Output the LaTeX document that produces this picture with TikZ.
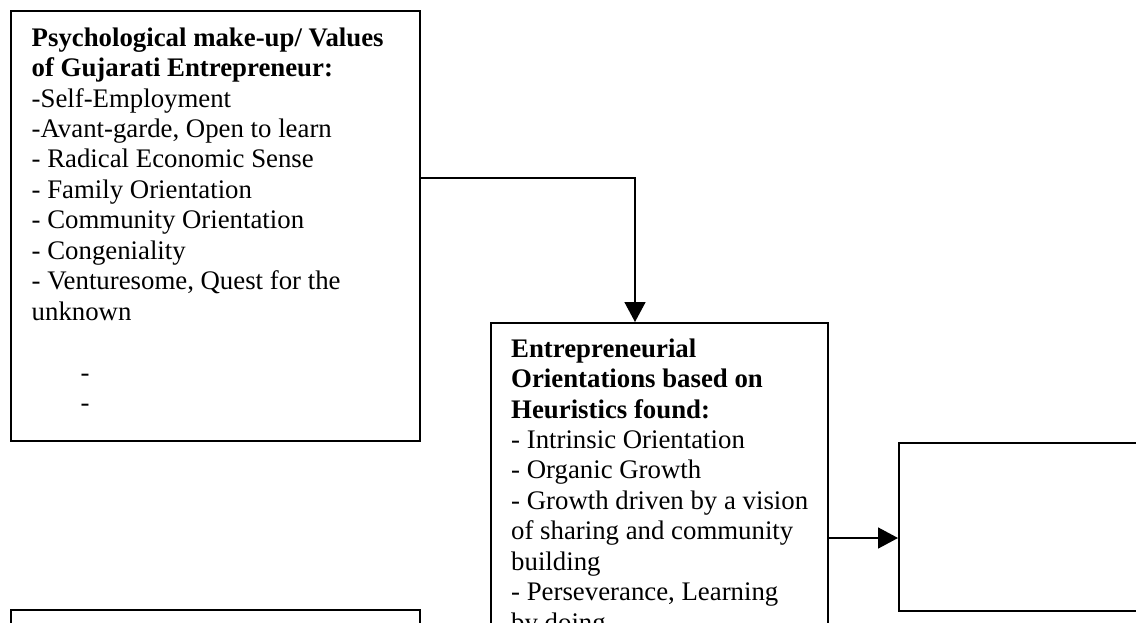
\documentclass[tikz,border=0pt]{standalone}
\usepackage{fontspec}
\setmainfont{Liberation Serif}
\usetikzlibrary{arrows.meta}
\tikzset{
  box/.style={draw=black, line width=1.6pt, fill=white, rectangle, anchor=north west, inner sep=0pt},
  txt/.style={anchor=north west, inner sep=0pt, align=left, font={\fontsize{26.8}{30.44}\selectfont}},
  conn/.style={draw=black, line width=1.6pt, -{Triangle[length=20pt,width=21pt]}}
}
\begin{document}
\begin{tikzpicture}[x=1pt,y=-1pt]
\useasboundingbox (0,0) rectangle (1136,622);
\clip (0,0) rectangle (1136,622);
\fill[white] (0,0) rectangle (1136,622);
% boxes
\node[box, minimum width=409pt, minimum height=430pt] (b1) at (10,10) {};
\node[box, minimum width=337pt, minimum height=340pt] (b2) at (490,322) {};
\node[box, minimum width=260pt, minimum height=168pt] (b3) at (898,442) {};
\node[box, minimum width=409pt, minimum height=60pt] (b4) at (10,609) {};
% texts
\node[txt] (t1) at (31.5,24.7) {\strut\textbf{Psychological make-up/ Values}\\
\textbf{of Gujarati Entrepreneur:}\\
-Self-Employment\\
-Avant-garde, Open to learn\\
- Radical Economic Sense\\
- Family Orientation\\
- Community Orientation\\
- Congeniality\\
- Venturesome, Quest for the\\
unknown\\
\strut\\
\hspace*{49pt}-\\
\hspace*{49pt}-};
\node[txt] (t2) at (511,335.7) {\strut\textbf{Entrepreneurial}\\
\textbf{Orientations based on}\\
\textbf{Heuristics found:}\\
- Intrinsic Orientation\\
- Organic Growth\\
- Growth driven by a vision\\
of sharing and community\\
building\\
- Perseverance, Learning\\
by doing};
% connectors
\coordinate (k1) at (635,178);
\coordinate (k2) at (860,538);
\draw[conn] (b1.east |- k1) -- (k1) -- (b2.north -| k1);
\draw[conn] (b2.east |- k2) -- (b3.west |- k2);
\end{tikzpicture}
\end{document}
